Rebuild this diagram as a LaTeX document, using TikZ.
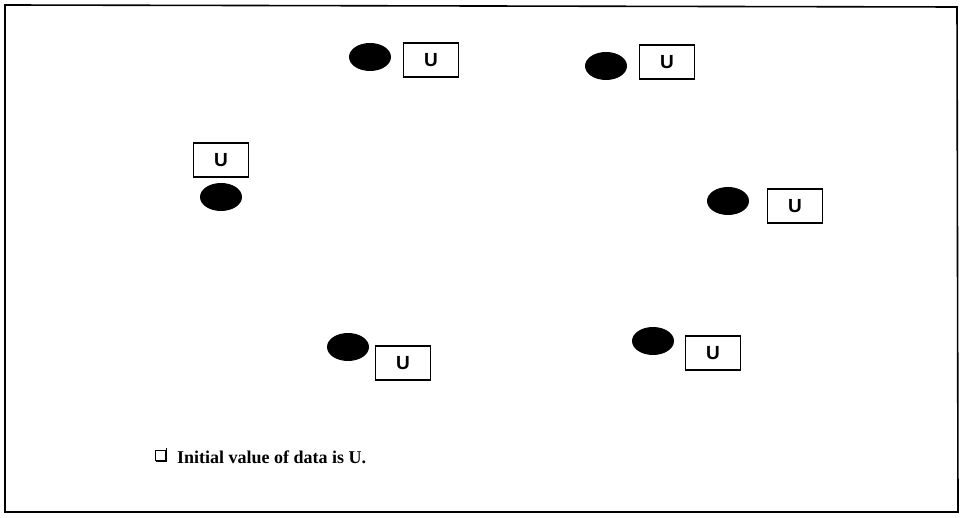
\documentclass[tikz,border=0pt]{standalone}
\usepackage{fontspec}
\usetikzlibrary{shapes.geometric}
\setmainfont{Liberation Serif}
\newfontfamily\boxfont{Liberation Sans Bold}
\begin{document}
\begin{tikzpicture}[x=1pt,y=-1pt,
  dot/.style={ellipse,fill=black,draw=none,minimum width=42pt,minimum height=28pt,inner sep=0pt},
  ubox/.style={rectangle,draw=black,line width=1.4pt,minimum width=55pt,minimum height=34pt,inner sep=0pt,font=\boxfont\fontsize{19}{19}\selectfont}]
\path[use as bounding box] (0,0) rectangle (960,518);
\draw[line width=1.6pt] (5,5) -- (957,7) -- (958,512) -- (5,512) -- cycle;
% nodes
\node[dot] (e1) at (370,57) {};
\node[ubox] (b1) at (431,60) {U};
\node[dot] (e2) at (606,66) {};
\node[ubox] (b2) at (667,62) {U};
\node[ubox] (b3) at (221,160) {U};
\node[dot] (e3) at (221,197) {};
\node[dot] (e4) at (728,201) {};
\node[ubox] (b4) at (795,206) {U};
\node[dot] (e5) at (348,347) {};
\node[ubox] (b5) at (403,363) {U};
\node[dot] (e6) at (653,341) {};
\node[ubox] (b6) at (713,353) {U};
% legend
\node[draw=black,line width=1pt,minimum width=10pt,minimum height=10pt,inner sep=0pt] (sq) at (160,455) {};
\draw[line width=1.5pt] ([xshift=1.5pt,yshift=-1pt]sq.south west) -- ([xshift=1pt,yshift=-1pt]sq.south east) -- ([xshift=1pt,yshift=1.5pt]sq.north east);
\node[anchor=west,inner sep=0pt,font=\bfseries\fontsize{18}{18}\selectfont] (lg) at (177,457) {Initial value of data is U.};
\end{tikzpicture}
\end{document}
